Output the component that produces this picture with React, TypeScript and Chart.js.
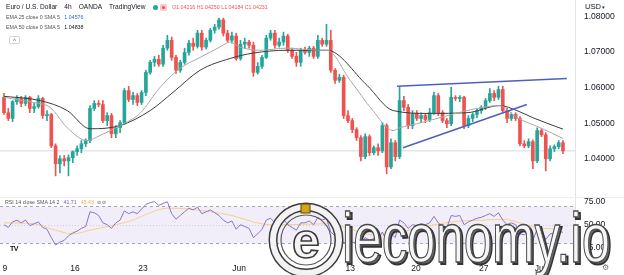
import React, { useEffect, useRef } from "react";
import { Chart, registerables } from "chart.js";

Chart.register(...registerables);

// ---------- data (EUR/USD 4h candles) ----------
const opens = [
  1.0573, 1.0530, 1.0514, 1.0561, 1.0570, 1.0556, 1.0573, 1.0542, 1.0547, 1.0570,
  1.0522, 1.0525, 1.0437, 1.0387, 1.0401, 1.0395, 1.0404, 1.0421, 1.0429, 1.0443,
  1.0452, 1.0542, 1.0556, 1.0553, 1.0508, 1.0522, 1.0471, 1.0488, 1.0502, 1.0592,
  1.0567, 1.0578, 1.0559, 1.0587, 1.0643, 1.0671, 1.0680, 1.0666, 1.0711, 1.0733,
  1.0685, 1.0649, 1.0671, 1.0699, 1.0725, 1.0716, 1.0753, 1.0714, 1.0733, 1.0761,
  1.0770, 1.0790, 1.0753, 1.0733, 1.0745, 1.0682, 1.0722, 1.0728, 1.0719, 1.0643,
  1.0660, 1.0685, 1.0739, 1.0753, 1.0719, 1.0728, 1.0745, 1.0705, 1.0688, 1.0671,
  1.0705, 1.0699, 1.0711, 1.0688, 1.0733, 1.0722, 1.0733, 1.0649, 1.0621, 1.0629,
  1.0522, 1.0508, 1.0483, 1.0460, 1.0407, 1.0463, 1.0418, 1.0432, 1.0423, 1.0494,
  1.0378, 1.0446, 1.0407, 1.0564, 1.0545, 1.0494, 1.0528, 1.0514, 1.0522, 1.0511,
  1.0530, 1.0578, 1.0530, 1.0508, 1.0499, 1.0573, 1.0570, 1.0573, 1.0494, 1.0514,
  1.0525, 1.0536, 1.0545, 1.0564, 1.0584, 1.0573, 1.0595, 1.0536, 1.0514, 1.0525,
  1.0514, 1.0443, 1.0437, 1.0449, 1.0395, 1.0480, 1.0468, 1.0401, 1.0429, 1.0435,
  1.0446,
];
const highs = [
  1.0584, 1.0542, 1.0564, 1.0578, 1.0576, 1.0578, 1.0576, 1.0556, 1.0578, 1.0573,
  1.0536, 1.0528, 1.0443, 1.0410, 1.0410, 1.0412, 1.0423, 1.0437, 1.0452, 1.0457,
  1.0550, 1.0564, 1.0564, 1.0564, 1.0530, 1.0528, 1.0494, 1.0508, 1.0598, 1.0604,
  1.0587, 1.0584, 1.0592, 1.0649, 1.0677, 1.0688, 1.0691, 1.0719, 1.0747, 1.0742,
  1.0691, 1.0677, 1.0711, 1.0733, 1.0739, 1.0761, 1.0761, 1.0739, 1.0767, 1.0778,
  1.0795, 1.0795, 1.0761, 1.0756, 1.0753, 1.0733, 1.0739, 1.0733, 1.0728, 1.0671,
  1.0691, 1.0747, 1.0761, 1.0761, 1.0739, 1.0756, 1.0750, 1.0711, 1.0699, 1.0711,
  1.0714, 1.0716, 1.0716, 1.0747, 1.0739, 1.0778, 1.0761, 1.0654, 1.0638, 1.0635,
  1.0536, 1.0514, 1.0488, 1.0466, 1.0471, 1.0468, 1.0437, 1.0443, 1.0502, 1.0499,
  1.0457, 1.0452, 1.0601, 1.0576, 1.0553, 1.0536, 1.0536, 1.0530, 1.0528, 1.0542,
  1.0587, 1.0584, 1.0536, 1.0514, 1.0601, 1.0578, 1.0578, 1.0576, 1.0522, 1.0530,
  1.0542, 1.0550, 1.0570, 1.0598, 1.0592, 1.0604, 1.0604, 1.0542, 1.0530, 1.0530,
  1.0519, 1.0452, 1.0457, 1.0454, 1.0488, 1.0485, 1.0474, 1.0437, 1.0440, 1.0452,
  1.0452,
];
const lows = [
  1.0525, 1.0508, 1.0505, 1.0553, 1.0547, 1.0550, 1.0530, 1.0530, 1.0542, 1.0514,
  1.0508, 1.0432, 1.0353, 1.0361, 1.0381, 1.0353, 1.0390, 1.0410, 1.0418, 1.0435,
  1.0446, 1.0536, 1.0547, 1.0502, 1.0494, 1.0460, 1.0460, 1.0474, 1.0497, 1.0561,
  1.0553, 1.0550, 1.0553, 1.0578, 1.0638, 1.0660, 1.0660, 1.0660, 1.0705, 1.0677,
  1.0640, 1.0643, 1.0666, 1.0691, 1.0705, 1.0711, 1.0705, 1.0708, 1.0728, 1.0753,
  1.0764, 1.0745, 1.0728, 1.0725, 1.0677, 1.0677, 1.0711, 1.0711, 1.0632, 1.0638,
  1.0654, 1.0682, 1.0733, 1.0711, 1.0714, 1.0719, 1.0699, 1.0682, 1.0660, 1.0660,
  1.0694, 1.0688, 1.0682, 1.0682, 1.0716, 1.0716, 1.0643, 1.0612, 1.0615, 1.0514,
  1.0502, 1.0474, 1.0452, 1.0395, 1.0401, 1.0410, 1.0412, 1.0410, 1.0418, 1.0359,
  1.0373, 1.0395, 1.0401, 1.0536, 1.0485, 1.0485, 1.0508, 1.0502, 1.0502, 1.0505,
  1.0525, 1.0522, 1.0502, 1.0488, 1.0494, 1.0564, 1.0561, 1.0485, 1.0488, 1.0505,
  1.0516, 1.0528, 1.0539, 1.0559, 1.0564, 1.0567, 1.0530, 1.0502, 1.0508, 1.0508,
  1.0437, 1.0432, 1.0432, 1.0373, 1.0390, 1.0463, 1.0367, 1.0395, 1.0421, 1.0429,
  1.0415,
];
const closes = [
  1.0530, 1.0514, 1.0561, 1.0570, 1.0556, 1.0573, 1.0542, 1.0547, 1.0570, 1.0522,
  1.0525, 1.0437, 1.0387, 1.0401, 1.0395, 1.0404, 1.0421, 1.0429, 1.0443, 1.0452,
  1.0542, 1.0556, 1.0553, 1.0508, 1.0522, 1.0471, 1.0488, 1.0502, 1.0592, 1.0567,
  1.0578, 1.0559, 1.0587, 1.0643, 1.0671, 1.0680, 1.0666, 1.0711, 1.0733, 1.0685,
  1.0649, 1.0671, 1.0699, 1.0725, 1.0716, 1.0753, 1.0714, 1.0733, 1.0761, 1.0770,
  1.0790, 1.0753, 1.0733, 1.0745, 1.0682, 1.0722, 1.0728, 1.0719, 1.0643, 1.0660,
  1.0685, 1.0739, 1.0753, 1.0719, 1.0728, 1.0745, 1.0705, 1.0688, 1.0671, 1.0705,
  1.0699, 1.0711, 1.0688, 1.0733, 1.0722, 1.0733, 1.0649, 1.0621, 1.0629, 1.0522,
  1.0508, 1.0483, 1.0460, 1.0407, 1.0463, 1.0418, 1.0432, 1.0423, 1.0494, 1.0378,
  1.0446, 1.0407, 1.0564, 1.0545, 1.0494, 1.0528, 1.0514, 1.0522, 1.0511, 1.0530,
  1.0578, 1.0530, 1.0508, 1.0499, 1.0573, 1.0570, 1.0573, 1.0494, 1.0514, 1.0525,
  1.0536, 1.0545, 1.0564, 1.0584, 1.0573, 1.0595, 1.0536, 1.0514, 1.0525, 1.0514,
  1.0443, 1.0437, 1.0449, 1.0395, 1.0480, 1.0468, 1.0401, 1.0429, 1.0435, 1.0446,
  1.0423,
];

// EMA 25 (light) and EMA 50 (dark) read at candle positions
const ema25Idx = [0, 6.7, 10.7, 14.7, 19.3, 22.3, 27, 31.6, 36.3, 40.9, 45.6, 50.2, 52.6, 54.9, 59.5, 65.8, 73.5, 75.1, 80.5, 85.8, 90.5, 92.1, 96, 101.4, 107.7, 115.3, 119.3, 124.7, 130];
const ema25Val = [1.0573, 1.0559, 1.0545, 1.0488, 1.0452, 1.0466, 1.0494, 1.0528, 1.0601, 1.0654, 1.0685, 1.0714, 1.0728, 1.0714, 1.0705, 1.0711, 1.0705, 1.0705, 1.0621, 1.0536, 1.0480, 1.0488, 1.0499, 1.0516, 1.0536, 1.0550, 1.0516, 1.0488, 1.0458];
const ema50Idx = [0, 8.4, 14.7, 20, 27, 34, 39.3, 45.6, 52.6, 57.9, 65.8, 75.1, 84.4, 90.5, 99, 107.7, 115.3, 119.3, 123, 130];
const ema50Val = [1.0576, 1.0564, 1.0536, 1.0485, 1.0494, 1.0536, 1.0587, 1.0649, 1.0682, 1.0697, 1.0705, 1.0705, 1.0607, 1.0536, 1.0528, 1.0530, 1.0550, 1.0536, 1.0516, 1.0484];

// drawn trend lines (wedge)
const upperTrendIdx = [91.4, 130.9];
const upperTrendVal = [1.0604, 1.0626];
const lowerTrendIdx = [92.8, 121.6];
const lowerTrendVal = [1.0432, 1.0553];

const lastPrice = 1.04231;

// RSI 14 and its SMA
const rsiValues = [
  50, 47, 53, 55, 52, 55, 49, 51, 53, 47,
  45, 36, 28, 31, 33, 38, 41, 43, 46, 48,
  64, 63, 60, 52, 50, 46, 52, 55, 65, 62,
  64, 62, 67, 72, 74, 75, 71, 73, 75, 62,
  56, 60, 64, 68, 66, 69, 62, 64, 66, 63,
  60, 55, 52, 54, 45, 50, 48, 46, 36, 40,
  45, 55, 57, 52, 53, 56, 50, 47, 44, 52,
  52, 54, 50, 58, 55, 57, 42, 38, 40, 30,
  33, 31, 30, 28, 36, 33, 35, 34, 42, 33,
  40, 36, 55, 52, 46, 50, 49, 51, 50, 52,
  59, 52, 48, 47, 60, 59, 60, 50, 53, 55,
  57, 58, 60, 62, 59, 63, 55, 50, 52, 50,
  40, 39, 42, 33, 45, 43, 34, 40, 41, 43,
  41.71,
];
const rsiSmaIdx = [0, 7, 12, 16, 20, 25, 30, 34, 38, 43, 48, 53, 58, 62, 66, 75, 80, 84, 88, 92, 96, 100, 106, 112, 116, 120, 125, 130];
const rsiSmaVal = [52, 51, 44, 40, 44, 49, 55, 63, 68, 67, 64, 60, 53, 50, 50, 51, 46, 40, 38, 42, 46, 50, 54, 55, 56, 52, 46, 45.43];

const priceTicks = [1.04, 1.05, 1.06, 1.07, 1.08];
const rsiTicks = [25, 50, 75];
const rsiBand = [30, 70];
const dateTickIdx = [0.2, 16.5, 32.3, 54.7, 80.5, 95.8, 111.6, 124.7];
const dateTickLabels = ["9", "16", "23", "Jun", "13", "20", "27", "Jul"];

// ---------- layout / style ----------
const X_MIN = -0.93;
const X_MAX = 132.8;
const PRICE_MIN = 1.02938;
const PRICE_MAX = 1.08459;
const RSI_MIN = 12.7;
const RSI_MAX = 80.1;
const AXIS_W = 49;
const UP = "#26a69a";
const DOWN = "#ef5350";
const FONT = "'Liberation Sans', Arial, sans-serif";

const pts = (xs: number[], ys: number[]) => xs.map((x, i) => ({ x, y: ys[i] }));

const rsiBandPlugin = {
  id: "rsiBand",
  beforeDatasetsDraw(chart: any) {
    const { ctx, chartArea, scales } = chart;
    const y = scales.y;
    const yTop = Math.round(y.getPixelForValue(rsiBand[1])) + 0.5;
    const yBot = Math.round(y.getPixelForValue(rsiBand[0])) + 0.5;
    ctx.save();
    ctx.fillStyle = "rgba(126,87,194,0.1)";
    ctx.fillRect(chartArea.left, yTop, chartArea.right - chartArea.left, yBot - yTop);
    ctx.strokeStyle = "#a3a6af";
    ctx.lineWidth = 1;
    ctx.setLineDash([3, 3]);
    [yTop, yBot].forEach((yy) => {
      ctx.beginPath();
      ctx.moveTo(chartArea.left, yy);
      ctx.lineTo(chartArea.right, yy);
      ctx.stroke();
    });
    ctx.strokeStyle = "rgba(163,166,175,0.45)";
    ctx.setLineDash([1, 2]);
    const ym = Math.round(y.getPixelForValue(50)) + 0.5;
    ctx.beginPath();
    ctx.moveTo(chartArea.left, ym);
    ctx.lineTo(chartArea.right, ym);
    ctx.stroke();
    ctx.restore();
  },
};

export default function App() {
  const priceRef = useRef<HTMLCanvasElement>(null);
  const rsiRef = useRef<HTMLCanvasElement>(null);

  useEffect(() => {
    Chart.defaults.font.family = FONT;
    const colors = closes.map((c, i) => (c >= opens[i] ? UP : DOWN));

    const priceChart = new Chart(priceRef.current as HTMLCanvasElement, {
      type: "bar",
      data: {
        datasets: [
          {
            type: "line",
            data: [
              { x: X_MIN, y: lastPrice },
              { x: X_MAX, y: lastPrice },
            ],
            borderColor: "#d6d8de",
            borderWidth: 1,
            pointRadius: 0,
            order: 10,
          } as any,
          {
            type: "bar",
            data: lows.map((l, i) => ({ x: i, y: [l, highs[i]] })),
            backgroundColor: colors,
            barThickness: 1,
            grouped: false,
            order: 4,
          } as any,
          {
            type: "bar",
            data: opens.map((o, i) => ({ x: i, y: [o, closes[i]] })),
            backgroundColor: colors,
            barThickness: 3,
            minBarLength: 1,
            grouped: false,
            order: 3,
          } as any,
          {
            type: "line",
            data: pts(ema25Idx, ema25Val),
            borderColor: "#a8a8a8",
            borderWidth: 1,
            pointRadius: 0,
            cubicInterpolationMode: "monotone",
            order: 2,
          } as any,
          {
            type: "line",
            data: pts(ema50Idx, ema50Val),
            borderColor: "#3d3d3d",
            borderWidth: 1,
            pointRadius: 0,
            cubicInterpolationMode: "monotone",
            order: 2,
          } as any,
          {
            type: "line",
            data: pts(upperTrendIdx, upperTrendVal),
            borderColor: "#4f5fc0",
            borderWidth: 1.5,
            pointRadius: 0,
            order: 1,
          } as any,
          {
            type: "line",
            data: pts(lowerTrendIdx, lowerTrendVal),
            borderColor: "#4f5fc0",
            borderWidth: 1.5,
            pointRadius: 0,
            order: 1,
          } as any,
        ],
      },
      options: {
        responsive: false,
        animation: false,
        layout: { padding: 0 },
        plugins: { legend: { display: false }, tooltip: { enabled: false } },
        scales: {
          x: { type: "linear", min: X_MIN, max: X_MAX, offset: false, display: false },
          y: {
            type: "linear",
            position: "right",
            min: PRICE_MIN,
            max: PRICE_MAX,
            grid: { display: false, drawTicks: false },
            border: { display: true, color: "#e0e3eb" },
            afterBuildTicks: (s: any) => {
              s.ticks = priceTicks.map((v) => ({ value: v }));
            },
            afterFit: (s: any) => {
              s.width = AXIS_W;
              s.paddingTop = 0;
              s.paddingBottom = 0;
            },
            ticks: {
              font: { size: 8.5 },
              color: "#131722",
              padding: 9,
              callback: (v: any) => Number(v).toFixed(5),
            },
          },
        },
      } as any,
    });

    const rsiChart = new Chart(rsiRef.current as HTMLCanvasElement, {
      type: "line",
      data: {
        datasets: [
          {
            data: rsiValues.map((v, i) => ({ x: i, y: v })),
            borderColor: "#8a74c9",
            borderWidth: 1,
            pointRadius: 0,
            order: 1,
          },
          {
            data: pts(rsiSmaIdx, rsiSmaVal),
            borderColor: "#f5d08a",
            borderWidth: 1,
            pointRadius: 0,
            cubicInterpolationMode: "monotone",
            order: 2,
          } as any,
        ],
      },
      options: {
        responsive: false,
        animation: false,
        layout: { padding: 0 },
        plugins: { legend: { display: false }, tooltip: { enabled: false } },
        scales: {
          x: {
            type: "linear",
            position: "bottom",
            min: X_MIN,
            max: X_MAX,
            offset: false,
            grid: { display: false, drawTicks: false },
            border: { display: false },
            afterBuildTicks: (s: any) => {
              s.ticks = dateTickIdx.map((v) => ({ value: v }));
            },
            afterFit: (s: any) => {
              s.height = 16;
              s.paddingLeft = 0;
              s.paddingRight = 0;
            },
            ticks: {
              autoSkip: false,
              maxRotation: 0,
              font: { size: 8.5 },
              color: "#131722",
              padding: 5,
              callback: (_v: any, i: number) => dateTickLabels[i],
            },
          },
          y: {
            type: "linear",
            position: "right",
            min: RSI_MIN,
            max: RSI_MAX,
            grid: { display: false, drawTicks: false },
            border: { display: true, color: "#e0e3eb" },
            afterBuildTicks: (s: any) => {
              s.ticks = rsiTicks.map((v) => ({ value: v }));
            },
            afterFit: (s: any) => {
              s.width = AXIS_W;
              s.paddingTop = 0;
              s.paddingBottom = 0;
            },
            ticks: {
              font: { size: 8.5 },
              color: "#131722",
              padding: 9,
              callback: (v: any) => Number(v).toFixed(2),
            },
          },
        },
      } as any,
      plugins: [rsiBandPlugin as any],
    });

    return () => {
      priceChart.destroy();
      rsiChart.destroy();
    };
  }, []);

  const abs = (l: number, t: number, extra: any = {}) => ({
    position: "absolute" as const,
    left: l,
    top: t,
    whiteSpace: "nowrap" as const,
    lineHeight: 1,
    fontFamily: FONT,
    ...extra,
  });

  return (
    <div
      style={{
        position: "fixed",
        left: 0,
        top: 0,
        width: 624,
        height: 275,
        background: "#ffffff",
        overflow: "hidden",
      }}
    >
      <canvas ref={priceRef} width={624} height={197} style={{ position: "absolute", left: 0, top: 0 }} />
      <canvas ref={rsiRef} width={624} height={78} style={{ position: "absolute", left: 0, top: 197 }} />
      <div style={{ position: "absolute", left: 0, top: 197, width: 624, height: 1, background: "#eceef2" }} />

      {/* price-pane legend */}
      <div style={abs(6, 4, { fontSize: 6.6, color: "#131722" })}>
        <span style={{ marginRight: 7 }}>Euro / U.S. Dollar</span>
        <span style={{ marginRight: 7 }}>4h</span>
        <span style={{ marginRight: 7 }}>OANDA</span>
        <span>TradingView</span>
      </div>
      <div style={abs(153, 5, { width: 5, height: 5, borderRadius: 3, background: "#26a69a" })} />
      <div style={abs(160, 4, { width: 7, height: 7, borderRadius: 2, background: "#f7c9cc" })} />
      <div style={abs(162, 6, { width: 3, height: 3, borderRadius: 2, background: "#ef5350" })} />
      <div style={abs(172, 5, { fontSize: 5.3, color: "#ef5350" })}>O1.04216 H1.04250 L1.04184 C1.04231</div>
      <div style={abs(6, 15, { fontSize: 5.3, color: "#555" })}>
        EMA 25 close 0 SMA 5 <span style={{ color: "#2962ff", marginLeft: 3 }}>1.04576</span>
      </div>
      <div style={abs(6, 25, { fontSize: 5.3, color: "#555" })}>
        EMA 50 close 0 SMA 5 <span style={{ color: "#131722", marginLeft: 3 }}>1.04838</span>
      </div>
      <div
        style={abs(9, 36, {
          width: 9,
          height: 6,
          border: "1px solid #d1d4dc",
          borderRadius: 2,
          fontSize: 6,
          color: "#555",
          textAlign: "center",
          background: "#fff",
        })}
      >
        ˄
      </div>

      {/* currency label */}
      <div style={abs(576, 0, { width: 48, height: 12, background: "#fff" })} />
      <div style={abs(585, 3, { fontSize: 7.5, color: "#131722" })}>
        USD<span style={{ fontSize: 5, marginLeft: 1 }}>▾</span>
      </div>

      {/* RSI legend */}
      <div style={abs(5, 200, { fontSize: 5.3, color: "#555" })}>
        RSI 14 close SMA 14 2<span style={{ color: "#7e57c2", marginLeft: 4 }}>41.71</span>
        <span style={{ color: "#e8b04a", marginLeft: 4 }}>45.43</span>
        <span style={{ marginLeft: 3 }}>⊘ ⊘</span>
      </div>
      <div style={abs(10, 245, { fontSize: 7, fontWeight: 700, color: "#131722", letterSpacing: -0.5 })}>TV</div>
      <div style={abs(602, 264, { fontSize: 8, color: "#6a6d78" })}>⚙</div>

      {/* watermark */}
      <svg
        width={624}
        height={275}
        style={{ position: "absolute", left: 0, top: 0, pointerEvents: "none" }}
      >
        <circle cx={306} cy={240} r={33} fill="none" stroke="#3c3c3c" strokeWidth={9} />
        <circle cx={306} cy={240} r={33} fill="none" stroke="#f3f3f3" strokeWidth={6} />
        <circle cx={306} cy={240} r={25} fill="none" stroke="#5a5a5a" strokeWidth={1.2} />
        <text
          x={306}
          y={258}
          fontSize={50}
          textAnchor="middle"
          fill="#f4f4f4"
          stroke="#3a3a3a"
          strokeWidth={1.6}
          fontFamily={FONT}
          fontWeight={700}
        >
          e
        </text>
        <rect x={301} y={204} width={9} height={9} fill="#d4a514" stroke="#5b4708" strokeWidth={1} />
        <text
          x={344}
          y={264}
          fontSize={70}
          textLength={268}
          lengthAdjust="spacingAndGlyphs"
          fill="#6a6a6a"
          stroke="#333"
          strokeWidth={2}
          fontFamily={FONT}
        >
          ieconomy.io
        </text>
        <text
          x={342}
          y={262}
          fontSize={70}
          textLength={268}
          lengthAdjust="spacingAndGlyphs"
          fill="#f6f6f6"
          stroke="#4a4a4a"
          strokeWidth={1.3}
          fontFamily={FONT}
        >
          ieconomy.io
        </text>
      </svg>
    </div>
  );
}
